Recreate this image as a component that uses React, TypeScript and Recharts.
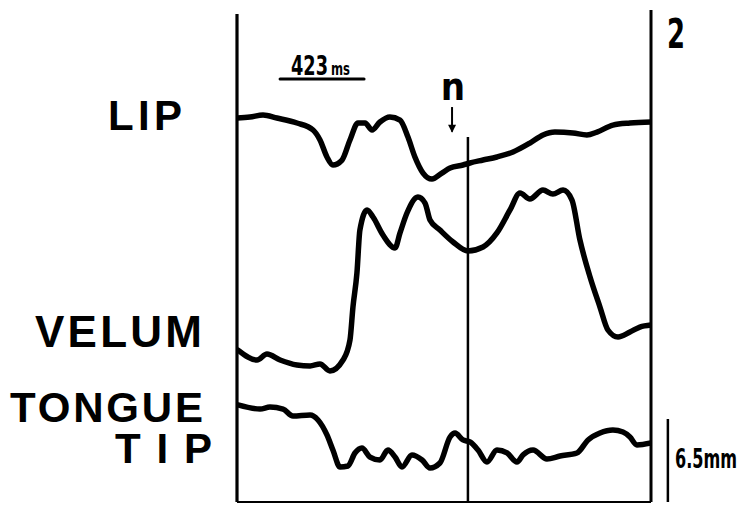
import React from "react";
import { LineChart, Line, XAxis, YAxis, ReferenceLine, ReferenceDot, Customized } from "recharts";

// time in ms, displacement in mm
const X_MAX = 2085;
const Y_MAX = 38.53;

const lipT = [0, 65, 131, 201, 302, 383, 418, 453, 483, 529, 569, 609, 645, 680, 720, 770, 821, 861, 896, 937, 982, 1032, 1073, 1138, 1173, 1239, 1309, 1390, 1475, 1541, 1601, 1692, 1762, 1813, 1893, 1979, 2085];
const lipMm = [30.07, 30.15, 30.31, 30.07, 29.68, 29.13, 28.35, 27.02, 26.39, 26.78, 28.35, 29.68, 29.68, 29.13, 29.76, 30.15, 29.91, 28.58, 27.02, 25.76, 25.29, 25.76, 26.16, 26.39, 26.55, 26.78, 27.02, 27.41, 28.11, 28.74, 28.97, 28.9, 28.74, 28.97, 29.52, 29.68, 29.76];

const velumT = [5, 101, 151, 217, 302, 368, 418, 468, 534, 569, 584, 604, 619, 655, 685, 735, 796, 821, 856, 911, 947, 972, 1022, 1088, 1163, 1239, 1309, 1375, 1425, 1475, 1541, 1591, 1642, 1687, 1727, 1778, 1828, 1868, 1919, 1979, 2029, 2085];
const velumMm = [11.9, 11.12, 11.59, 11.12, 10.73, 10.65, 10.81, 10.26, 11.12, 12.69, 15.27, 17.93, 21.3, 22.87, 22.32, 20.91, 19.89, 21.07, 22.63, 23.88, 23.41, 22.08, 21.3, 20.36, 19.66, 19.97, 21.07, 22.87, 24.2, 23.73, 24.43, 24.12, 24.43, 23.65, 20.52, 17.62, 15.27, 13.47, 12.92, 13.31, 13.7, 13.86];

const tongueT = [5, 116, 166, 232, 282, 368, 408, 453, 483, 519, 559, 594, 629, 670, 720, 760, 796, 831, 881, 932, 972, 1022, 1073, 1098, 1138, 1173, 1214, 1259, 1309, 1360, 1410, 1440, 1491, 1561, 1627, 1712, 1768, 1828, 1893, 1944, 1979, 2014, 2085];
const tongueMm = [7.6, 7.28, 7.44, 7.28, 6.73, 6.81, 6.42, 5.25, 4.07, 2.74, 2.82, 3.84, 4.23, 3.52, 3.29, 4.07, 3.52, 2.74, 3.68, 3.29, 2.66, 3.05, 5.09, 5.4, 4.86, 4.7, 4.07, 3.13, 4.07, 3.84, 3.13, 3.68, 4.07, 3.37, 3.6, 3.84, 4.86, 5.4, 5.64, 5.48, 5.09, 4.46, 4.62];

// reference marks
const MARK_T = 1163; // vertical line at "n"
const MARK_TOP = 28.58;
const LEFT_TOP = 38.21;
const SCALE_MS = 423;
const SCALE_START = 217;
const SCALE_Y = 33.13;
const SCALE_MM = 6.5;
const SCALE_MM_X = 2170;
const ARROW_T = 1083;
const ARROW_TOP = 30.93;
const ARROW_BOTTOM = 29.0;

const lipData = lipT.map((t, i) => ({ t, v: lipMm[i] }));
const velumData = velumT.map((t, i) => ({ t, v: velumMm[i] }));
const tongueData = tongueT.map((t, i) => ({ t, v: tongueMm[i] }));

const LABEL_FONT = "'Liberation Sans', Arial, sans-serif";
const NARROW_FONT = "'Liberation Sans Narrow', 'DejaVu Sans Condensed', 'Liberation Sans', sans-serif";

const Annotations = () => (
  <g fill="#000">
    <text x={108} y={130} fontFamily={LABEL_FONT} fontWeight="bold" fontSize={42} textLength={74} lengthAdjust="spacing">LIP</text>
    <text x={35} y={347} fontFamily={LABEL_FONT} fontWeight="bold" fontSize={44} textLength={167} lengthAdjust="spacing">VELUM</text>
    <text fontFamily={LABEL_FONT} fontWeight="bold" fontSize={42}>
      <tspan x={10} y={422} textLength={193} lengthAdjust="spacing">TONGUE</tspan>
      <tspan x={115} y={463} textLength={97} lengthAdjust="spacing">TIP</tspan>
    </text>
    <text x={328} y={75} textAnchor="end" fontFamily={NARROW_FONT} fontWeight="bold" fontSize={26} textLength={37} lengthAdjust="spacingAndGlyphs">423</text>
    <text x={331} y={75} fontFamily={NARROW_FONT} fontWeight="bold" fontSize={17} textLength={19} lengthAdjust="spacingAndGlyphs">ms</text>
    <text x={453} y={100} textAnchor="middle" fontFamily={NARROW_FONT} fontWeight="bold" fontSize={38}>n</text>
    <text x={667} y={48} fontFamily={NARROW_FONT} fontWeight="bold" fontSize={40} textLength={18} lengthAdjust="spacingAndGlyphs">2</text>
    <text x={737} y={468} textAnchor="end" fontFamily={NARROW_FONT} fontWeight="bold" fontSize={27} textLength={62} lengthAdjust="spacingAndGlyphs">6.5mm</text>
  </g>
);

const ArrowHead = (props: any) => {
  const { cx, cy } = props;
  if (cx == null || cy == null) return null;
  return <path d={`M${cx - 4},${cy - 7} L${cx + 4},${cy - 7} L${cx},${cy + 1} Z`} fill="#000" />;
};

export default function App() {
  return (
    <div style={{ position: "absolute", left: 0, top: 0, width: 745, height: 505, background: "#fff" }}>
      <LineChart width={745} height={505} margin={{ top: 10, right: 94, bottom: 3, left: 237 }}>
        <XAxis dataKey="t" type="number" domain={[0, X_MAX]} allowDataOverflow hide />
        <YAxis type="number" domain={[0, Y_MAX]} allowDataOverflow hide />
        {/* frame */}
        <ReferenceLine segment={[{ x: 0, y: 0 }, { x: 0, y: LEFT_TOP }]} stroke="#000" strokeWidth={3.2} ifOverflow="visible" />
        <ReferenceLine segment={[{ x: X_MAX, y: 0 }, { x: X_MAX, y: Y_MAX }]} stroke="#000" strokeWidth={3} ifOverflow="visible" />
        <ReferenceLine segment={[{ x: MARK_T, y: 0 }, { x: MARK_T, y: MARK_TOP }]} stroke="#000" strokeWidth={2.5} ifOverflow="visible" />
        <ReferenceLine segment={[{ x: 0, y: 0 }, { x: X_MAX, y: 0 }]} stroke="#000" strokeWidth={2.2} ifOverflow="visible" />
        {/* scale bars */}
        <ReferenceLine segment={[{ x: SCALE_START, y: SCALE_Y }, { x: SCALE_START + SCALE_MS, y: SCALE_Y }]} stroke="#000" strokeWidth={3} strokeLinecap="round" ifOverflow="visible" />
        <ReferenceLine segment={[{ x: SCALE_MM_X, y: 0 }, { x: SCALE_MM_X, y: SCALE_MM }]} stroke="#000" strokeWidth={2.5} ifOverflow="visible" />
        {/* arrow */}
        <ReferenceLine segment={[{ x: ARROW_T, y: ARROW_TOP }, { x: ARROW_T, y: ARROW_BOTTOM }]} stroke="#000" strokeWidth={2} ifOverflow="visible" />
        <ReferenceDot x={ARROW_T} y={ARROW_BOTTOM} r={4} ifOverflow="visible" shape={ArrowHead} />
        <Line data={lipData} dataKey="v" type="monotone" stroke="#000" strokeWidth={5.5} strokeLinejoin="round" strokeLinecap="round" dot={false} activeDot={false} isAnimationActive={false} />
        <Line data={velumData} dataKey="v" type="monotone" stroke="#000" strokeWidth={5.5} strokeLinejoin="round" strokeLinecap="round" dot={false} activeDot={false} isAnimationActive={false} />
        <Line data={tongueData} dataKey="v" type="monotone" stroke="#000" strokeWidth={5.5} strokeLinejoin="round" strokeLinecap="round" dot={false} activeDot={false} isAnimationActive={false} />
        <Customized component={Annotations} />
      </LineChart>
    </div>
  );
}
